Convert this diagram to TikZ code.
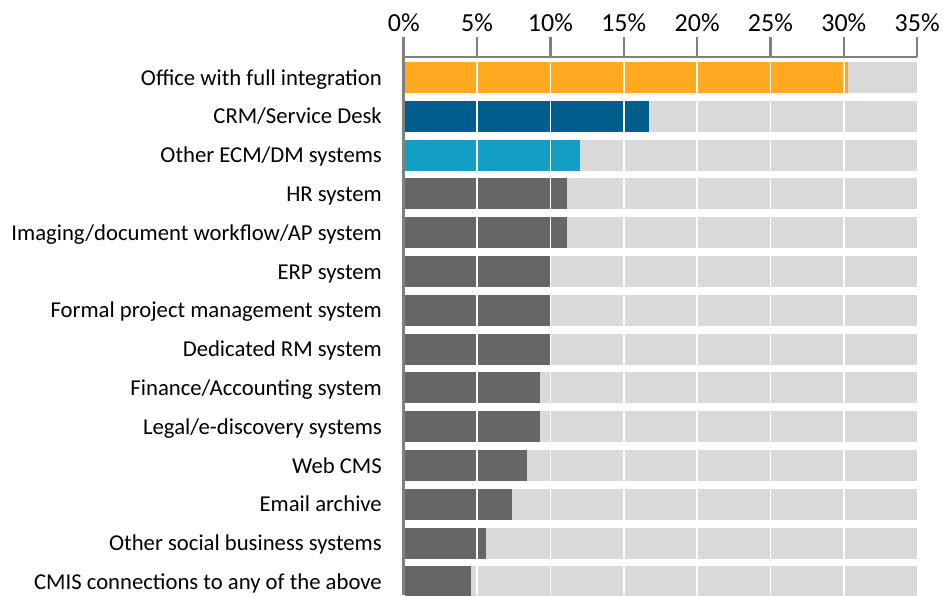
\documentclass[tikz,border=0pt]{standalone}
\usepackage{fontspec}
\setmainfont{Carlito}
\definecolor{barorange}{HTML}{FFA920}
\definecolor{bardarkblue}{HTML}{005E8C}
\definecolor{barlightblue}{HTML}{139FC3}
\definecolor{bargray}{HTML}{666666}
\definecolor{bgbar}{HTML}{D9D9D9}
\definecolor{axisgray}{HTML}{808080}
\begin{document}
\begin{tikzpicture}[x=1pt,y=-1pt,
  catlabel/.style={anchor=base east, font=\fontsize{22.7}{26}\selectfont, inner sep=0pt, text=black},
  ticklabel/.style={anchor=base, font=\fontsize{26}{30}\selectfont, inner sep=0pt, text=black},
  axisline/.style={draw=axisgray, line width=2.5pt},
  gridline/.style={draw=white, line width=1.6pt},
  bgfill/.style={fill=bgbar},
]
\useasboundingbox (0,0) rectangle (948,595);
\def\xo{403.7}
\def\sc{14.67}
% bars
\foreach \lab/\val/\col [count=\i] in {
  {Office with full integration}/30.3/barorange,
  {CRM/Service Desk}/16.7/bardarkblue,
  {Other ECM/DM systems}/12.0/barlightblue,
  {HR system}/11.1/bargray,
  {Imaging/document workflow/AP system}/11.1/bargray,
  {ERP system}/10.0/bargray,
  {Formal project management system}/10.0/bargray,
  {Dedicated RM system}/10.0/bargray,
  {Finance/Accounting system}/9.3/bargray,
  {Legal/e-discovery systems}/9.3/bargray,
  {Web CMS}/8.4/bargray,
  {Email archive}/7.4/bargray,
  {Other social business systems}/5.6/bargray,
  {CMIS connections to any of the above}/4.6/bargray}{
  \pgfmathsetmacro{\yc}{77.5+(\i-1)*38.8}
  \fill[bgfill] (\xo+1.2,\yc-15.5) rectangle ({\xo+\sc*35},\yc+15.5);
  \fill[\col] (\xo+1.2,\yc-15.5) rectangle ({\xo+\sc*\val},\yc+15.5);
  \node[catlabel] (lab\i) at (382,\yc+7.6) {\lab};
}
% gridlines
\foreach \p in {5,10,...,30}{
  \draw[gridline] ({\xo+\sc*\p},58.5) -- ({\xo+\sc*\p},595);
}
% axis
\coordinate (origin) at (\xo,57);
\coordinate (axend) at ({\xo+\sc*35},57);
\coordinate (axbottom) at (\xo,595);
\draw[axisline] (axend) -- (origin) -- (axbottom);
\foreach \p in {0,5,...,35}{
  \coordinate (tk\p) at ({\xo+\sc*\p},57);
  \coordinate (tt\p) at ({\xo+\sc*\p},37);
  \draw[axisline] (tk\p) -- (tt\p);
  \node[ticklabel] (tl\p) at ({\xo+\sc*\p},31.5) {\p\%};
}
\end{tikzpicture}
\end{document}
